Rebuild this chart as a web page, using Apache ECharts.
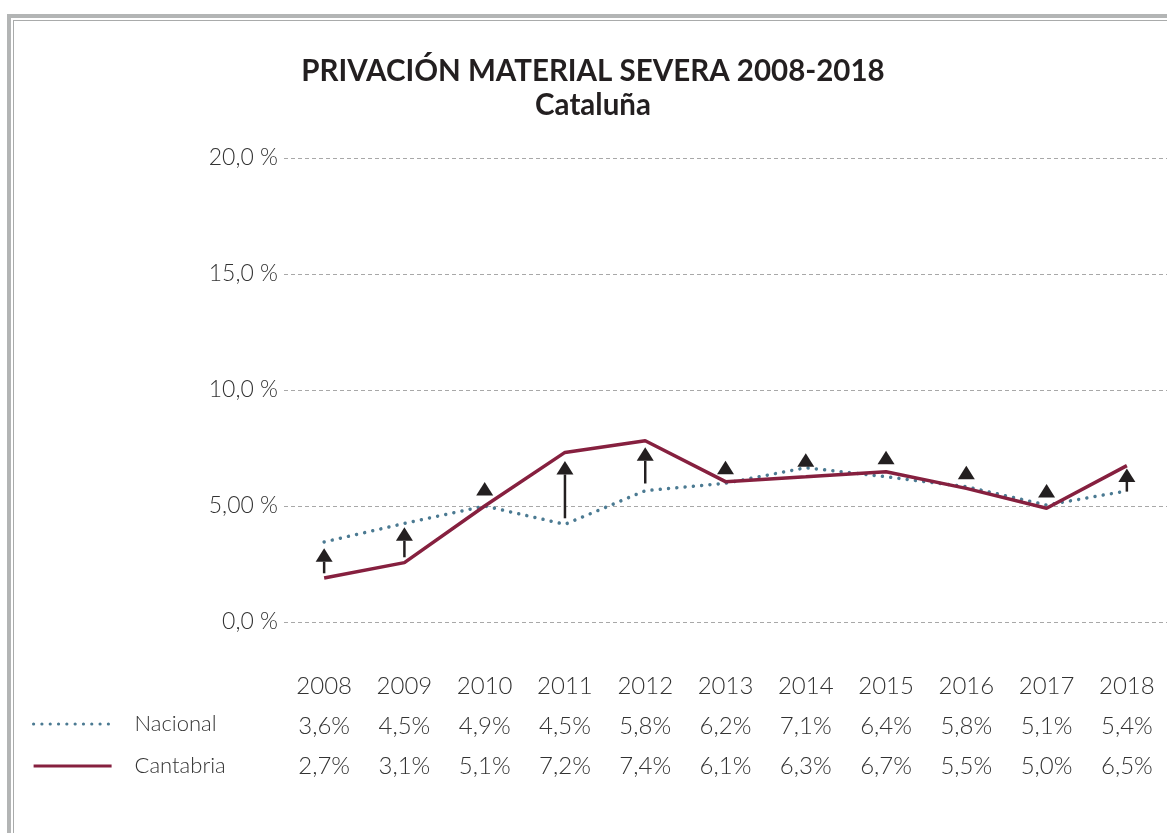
<!DOCTYPE html>
<html>
<head>
<meta charset="utf-8">
<script src="https://cdn.jsdelivr.net/npm/echarts@6/dist/echarts.min.js"></script>
<style>
  html, body { margin: 0; padding: 0; background: #fff; }
  #frameOuter { position: absolute; left: 7px; top: 14px; right: -10px; bottom: -10px;
    border-left: 4px solid #b3b5b5; border-top: 4px solid #b3b5b5; }
  #frameInner { position: absolute; left: 13px; top: 20px; right: -10px; bottom: -10px;
    border-left: 1.5px solid #a9abab; border-top: 1.5px solid #a9abab; }
  #chart { position: absolute; left: 0; top: 0; width: 1167px; height: 833px; }
</style>
</head>
<body>
<div id="frameOuter"></div>
<div id="frameInner"></div>
<div id="chart"></div>
<script>
// años
const years = ['2008', '2009', '2010', '2011', '2012', '2013', '2014', '2015', '2016', '2017', '2018'];
// valores dibujados
const nacional = [3.45, 4.25, 5.0, 4.21, 5.66, 5.98, 6.65, 6.26, 5.83, 5.04, 5.65];
const cantabria = [1.9, 2.56, 5.0, 7.31, 7.81, 6.05, 6.26, 6.48, 5.76, 4.9, 6.74];
// tabla de valores
const nacionalTxt = ['3,6%', '4,5%', '4,9%', '4,5%', '5,8%', '6,2%', '7,1%', '6,4%', '5,8%', '5,1%', '5,4%'];
const cantabriaTxt = ['2,7%', '3,1%', '5,1%', '7,2%', '7,4%', '6,1%', '6,3%', '6,7%', '5,5%', '5,0%', '6,5%'];
// flechas: punta y cola (null = solo triangulo)
const arrowTip = [3.18, 4.08, 6.03, 6.94, 7.53, 6.95, 7.27, 7.38, 6.74, 5.95, 6.62];
const arrowTail = [2.1, 2.79, null, 4.47, 5.97, null, null, null, null, null, 5.62];
// etiquetas eje y
const yTicks = { 0: '0,0 %', 5: '5,00 %', 10: '10,0 %', 15: '15,0 %', 20: '20,0 %' };

const FONT = 'Lato';
const chart = echarts.init(document.getElementById('chart'));

const arrowData = years.map((y, i) => [i, arrowTail[i] == null ? arrowTip[i] : arrowTail[i], arrowTip[i]]);

const option = {
  animation: false,
  title: {
    text: 'PRIVACIÓN MATERIAL SEVERA 2008-2018',
    subtext: 'Cataluña',
    left: 588,
    top: 51,
    textAlign: 'center',
    itemGap: 4,
    textStyle: { fontFamily: FONT, fontSize: 29.5, fontWeight: 'bold', color: '#231f20' },
    subtextStyle: { fontFamily: FONT, fontSize: 29.5, fontWeight: 'bold', color: '#231f20' },
  },
  legend: {
    orient: 'vertical',
    left: 27,
    top: 708,
    itemWidth: 78,
    itemHeight: 20,
    itemGap: 20,
    selectedMode: false,
    data: ['Nacional', 'Cantabria'],
    itemStyle: { opacity: 0 },
    lineStyle: { width: 3.2 },
    textStyle: { fontFamily: FONT, fontSize: 22, fontWeight: 300, color: '#333', lineHeight: 20, padding: [0, 0, 0, 18] },
  },
  grid: { left: 284, top: 158, width: 884, height: 464 },
  xAxis: {
    type: 'category',
    data: years,
    boundaryGap: true,
    axisLine: { show: false },
    axisTick: { show: false },
    splitLine: { show: false },
    axisLabel: {
      interval: 0,
      margin: 44,
      formatter: (value, idx) => `{t|${value}}\n{t|${nacionalTxt[idx]}}\n{t|${cantabriaTxt[idx]}}`,
      rich: {
        t: { fontFamily: FONT, fontSize: 24, fontWeight: 300, color: '#333', lineHeight: 40 },
      },
    },
  },
  yAxis: {
    type: 'value',
    min: 0,
    max: 20,
    interval: 5,
    axisLine: { show: false },
    axisTick: { show: false },
    axisLabel: {
      margin: 6,
      fontFamily: FONT,
      fontSize: 23,
      fontWeight: 300,
      color: '#333',
      formatter: v => yTicks[v],
    },
    splitLine: { lineStyle: { color: '#a8a8a8', type: [4, 3], width: 1 } },
  },
  series: [
    {
      name: 'Nacional',
      type: 'line',
      data: nacional,
      symbol: 'none',
      color: '#4b7a92',
      lineStyle: { color: '#4b7a92', width: 3.5, type: [0.01, 8.3], cap: 'round' },
      z: 3,
    },
    {
      name: 'Cantabria',
      type: 'line',
      data: cantabria,
      symbol: 'none',
      color: '#86203f',
      lineStyle: { color: '#86203f', width: 3.5 },
      z: 4,
    },
    {
      name: 'flechas',
      type: 'custom',
      data: arrowData,
      encode: { x: 0, y: 2 },
      z: 5,
      renderItem: (params, api) => {
        const tip = api.coord([api.value(0), api.value(2)]);
        const tail = api.coord([api.value(0), api.value(1)]);
        const headH = 13.5, headW = 8.5;
        const children = [{
          type: 'polygon',
          shape: { points: [[tip[0], tip[1]], [tip[0] - headW, tip[1] + headH], [tip[0] + headW, tip[1] + headH]] },
          style: { fill: '#231f20' },
        }];
        if (tail[1] > tip[1] + headH) {
          children.push({
            type: 'line',
            shape: { x1: tip[0], y1: tip[1] + headH, x2: tail[0], y2: tail[1] },
            style: { stroke: '#231f20', lineWidth: 2.5 },
          });
        }
        return { type: 'group', children };
      },
    },
  ],
};

chart.setOption(option);
</script>
</body>
</html>
